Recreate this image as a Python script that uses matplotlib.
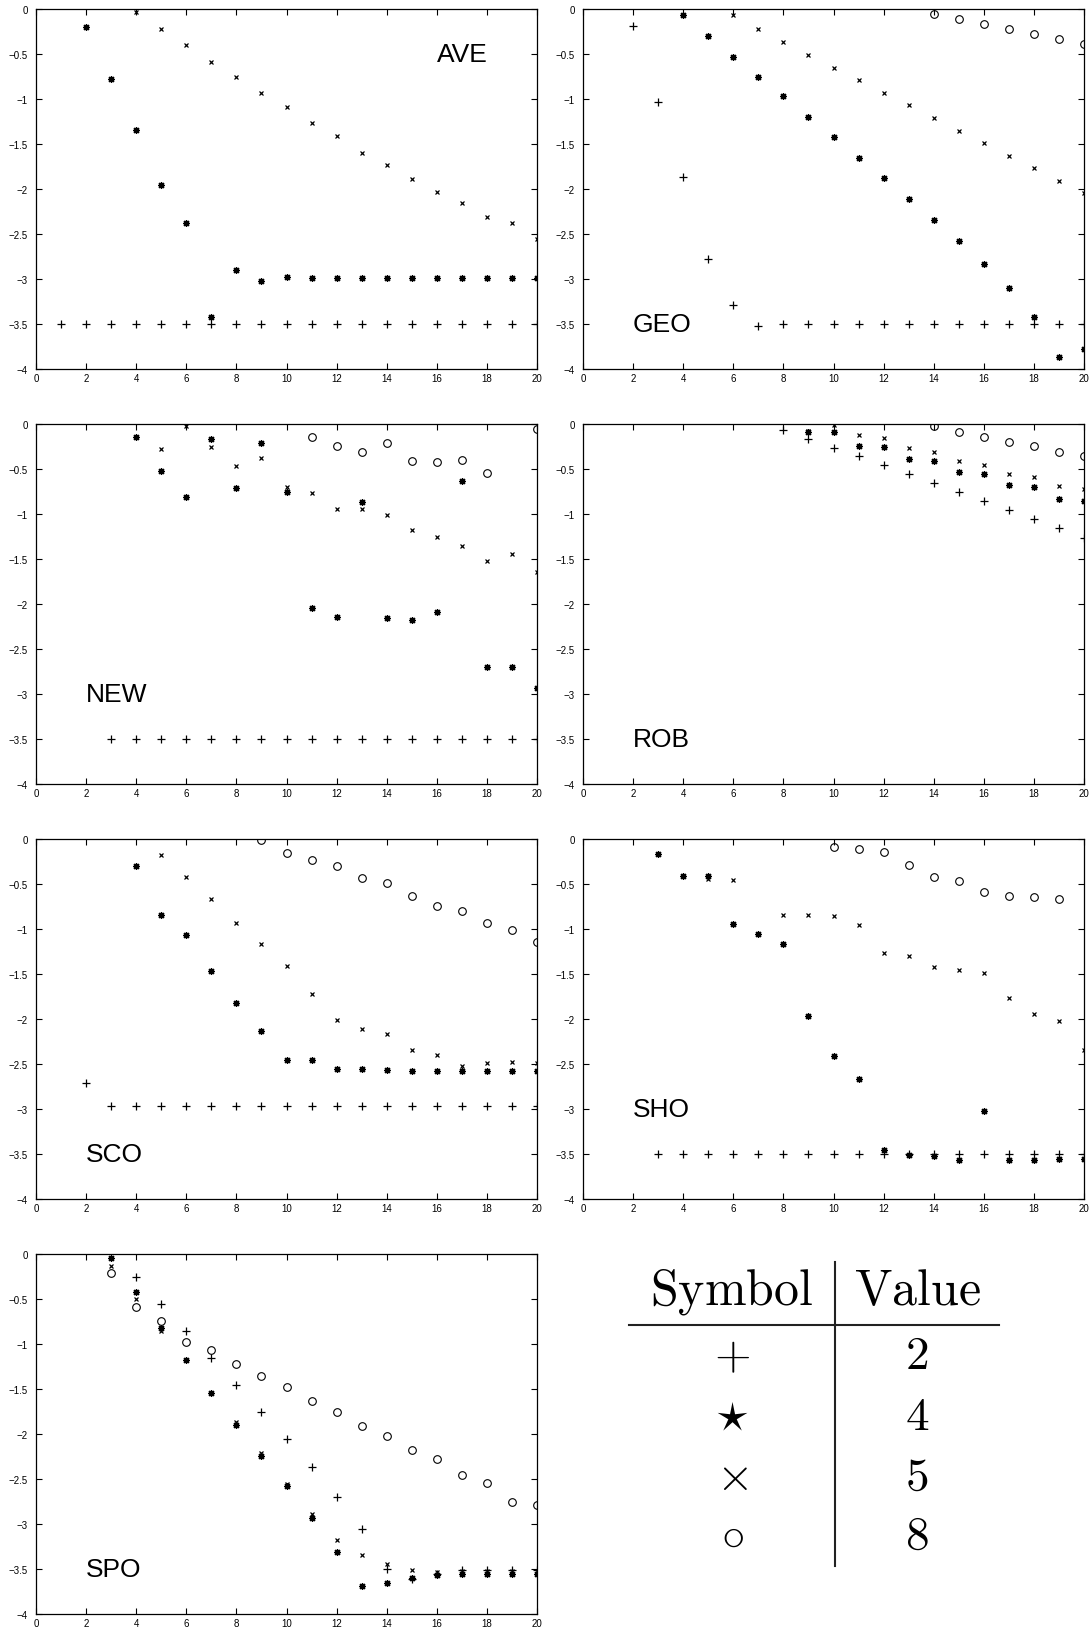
import matplotlib
matplotlib.use("Agg")
import matplotlib.pyplot as plt
from matplotlib.ticker import FuncFormatter, MultipleLocator

plt.rcParams['font.family'] = ['Liberation Sans', 'DejaVu Sans']
plt.rcParams['mathtext.fontset'] = 'cm'

# one list of x positions and one of values per symbol, per method
ave_x2 = list(range(1, 21))
ave_y2 = [-3.5, -3.5, -3.5, -3.5, -3.5, -3.5, -3.5, -3.5, -3.5, -3.5,
          -3.5, -3.5, -3.5, -3.5, -3.5, -3.5, -3.5, -3.5, -3.5, -3.5]
ave_x4 = list(range(2, 21))
ave_y4 = [-0.20, -0.78, -1.34, -1.96, -2.38, -3.42, -2.90, -3.02, -2.98, -2.99,
          -2.99, -2.99, -2.99, -2.99, -2.99, -2.99, -2.99, -2.99, -2.99]
ave_x5 = list(range(4, 21))
ave_y5 = [-0.03, -0.22, -0.40, -0.59, -0.76, -0.93, -1.09, -1.27, -1.41, -1.60,
          -1.73, -1.89, -2.03, -2.15, -2.31, -2.38, -2.56]
ave_x8 = []
ave_y8 = []

geo_x2 = list(range(2, 21))
geo_y2 = [-0.19, -1.03, -1.87, -2.78, -3.29, -3.52, -3.5, -3.5, -3.5, -3.5,
          -3.5, -3.5, -3.5, -3.5, -3.5, -3.5, -3.5, -3.5, -3.5]
geo_x4 = list(range(4, 21))
geo_y4 = [-0.07, -0.30, -0.53, -0.75, -0.97, -1.20, -1.42, -1.65, -1.88, -2.11,
          -2.34, -2.58, -2.83, -3.10, -3.42, -3.87, -3.78]
geo_x5 = list(range(6, 21))
geo_y5 = [-0.07, -0.22, -0.37, -0.51, -0.66, -0.79, -0.93, -1.07, -1.21, -1.35,
          -1.49, -1.63, -1.77, -1.91, -2.05]
geo_x8 = list(range(14, 21))
geo_y8 = [-0.06, -0.11, -0.17, -0.22, -0.28, -0.33, -0.39]

new_x2 = list(range(3, 21))
new_y2 = [-3.5, -3.5, -3.5, -3.5, -3.5, -3.5, -3.5, -3.5, -3.5, -3.5,
          -3.5, -3.5, -3.5, -3.5, -3.5, -3.5, -3.5, -3.5]
new_x4 = list(range(4, 21))
new_y4 = [-0.14, -0.52, -0.81, -0.17, -0.71, -0.21, -0.76, -2.04, -2.14, -0.87,
          -2.16, -2.18, -2.09, -0.63, -2.70, -2.70, -2.93]
new_x5 = list(range(5, 21))
new_y5 = [-0.28, -0.02, -0.25, -0.47, -0.38, -0.70, -0.77, -0.94, -0.94, -1.01,
          -1.18, -1.25, -1.35, -1.52, -1.44, -1.64]
new_x8 = [11, 12, 13, 14, 15, 16, 17, 18, 20]
new_y8 = [-0.14, -0.24, -0.31, -0.21, -0.41, -0.42, -0.40, -0.54, -0.06]

rob_x2 = list(range(8, 21))
rob_y2 = [-0.07, -0.17, -0.27, -0.36, -0.46, -0.56, -0.65, -0.75, -0.85, -0.95,
          -1.05, -1.16, -1.27]
rob_x4 = list(range(9, 21))
rob_y4 = [-0.09, -0.09, -0.24, -0.26, -0.39, -0.41, -0.53, -0.55, -0.68, -0.70,
          -0.83, -0.85]
rob_x5 = list(range(9, 21))
rob_y5 = [-0.08, -0.01, -0.12, -0.16, -0.27, -0.31, -0.41, -0.45, -0.55, -0.59,
          -0.69, -0.72]
rob_x8 = list(range(14, 21))
rob_y8 = [-0.02, -0.09, -0.14, -0.20, -0.24, -0.31, -0.36]

sco_x2 = list(range(2, 21))
sco_y2 = [-2.71, -2.97, -2.97, -2.97, -2.97, -2.97, -2.97, -2.97, -2.97, -2.97,
          -2.97, -2.97, -2.97, -2.97, -2.97, -2.97, -2.97, -2.97, -2.97]
sco_x4 = list(range(4, 21))
sco_y4 = [-0.30, -0.84, -1.07, -1.47, -1.82, -2.13, -2.46, -2.46, -2.55, -2.55,
          -2.57, -2.58, -2.58, -2.58, -2.58, -2.58, -2.58]
sco_x5 = list(range(5, 21))
sco_y5 = [-0.18, -0.42, -0.67, -0.93, -1.17, -1.41, -1.72, -2.01, -2.11, -2.17,
          -2.34, -2.40, -2.52, -2.49, -2.48, -2.49]
sco_x8 = list(range(9, 21))
sco_y8 = [-0.01, -0.15, -0.23, -0.30, -0.43, -0.49, -0.63, -0.74, -0.80, -0.93,
          -1.01, -1.14]

sho_x2 = list(range(3, 21))
sho_y2 = [-3.5, -3.5, -3.5, -3.5, -3.5, -3.5, -3.5, -3.5, -3.5, -3.5,
          -3.5, -3.5, -3.5, -3.5, -3.5, -3.5, -3.5, -3.5]
sho_x4 = list(range(3, 21))
sho_y4 = [-0.17, -0.41, -0.41, -0.94, -1.06, -1.17, -1.97, -2.41, -2.67, -3.46,
          -3.51, -3.52, -3.57, -3.02, -3.57, -3.57, -3.55, -3.55]
sho_x5 = [5, 6, 8, 9, 10, 11, 12, 13, 14, 15, 16, 17, 18, 19, 20]
sho_y5 = [-0.44, -0.46, -0.84, -0.84, -0.85, -0.95, -1.27, -1.30, -1.42, -1.46,
          -1.49, -1.77, -1.94, -2.02, -2.34]
sho_x8 = list(range(10, 20))
sho_y8 = [-0.09, -0.11, -0.14, -0.29, -0.42, -0.47, -0.59, -0.63, -0.64, -0.67]

spo_x2 = list(range(4, 21))
spo_y2 = [-0.25, -0.55, -0.85, -1.15, -1.45, -1.75, -2.06, -2.37, -2.70, -3.06,
          -3.50, -3.61, -3.56, -3.51, -3.51, -3.51, -3.51]
spo_x4 = list(range(3, 21))
spo_y4 = [-0.04, -0.42, -0.82, -1.18, -1.54, -1.90, -2.24, -2.58, -2.93, -3.31,
          -3.69, -3.65, -3.60, -3.57, -3.55, -3.55, -3.55, -3.55]
spo_x5 = list(range(3, 21))
spo_y5 = [-0.13, -0.50, -0.85, -1.18, -1.54, -1.87, -2.21, -2.55, -2.89, -3.18,
          -3.34, -3.44, -3.51, -3.53, -3.52, -3.52, -3.52, -3.52]
spo_x8 = list(range(3, 21))
spo_y8 = [-0.21, -0.59, -0.74, -0.98, -1.07, -1.22, -1.35, -1.48, -1.63, -1.75,
          -1.91, -2.02, -2.18, -2.28, -2.46, -2.54, -2.76, -2.79]

names = ["AVE", "GEO", "NEW", "ROB", "SCO", "SHO", "SPO"]
label_pos = [(16, -0.5), (2, -3.5), (2, -3.0), (2, -3.5), (2, -3.5), (2, -3.0), (2, -3.5)]

table_symbols = [r'$+$', r'$\star$', r'$\times$', r'$\circ$']
table_values = ['2', '4', '5', '8']

series = {
    "AVE": [(ave_x2, ave_y2), (ave_x4, ave_y4), (ave_x5, ave_y5), (ave_x8, ave_y8)],
    "GEO": [(geo_x2, geo_y2), (geo_x4, geo_y4), (geo_x5, geo_y5), (geo_x8, geo_y8)],
    "NEW": [(new_x2, new_y2), (new_x4, new_y4), (new_x5, new_y5), (new_x8, new_y8)],
    "ROB": [(rob_x2, rob_y2), (rob_x4, rob_y4), (rob_x5, rob_y5), (rob_x8, rob_y8)],
    "SCO": [(sco_x2, sco_y2), (sco_x4, sco_y4), (sco_x5, sco_y5), (sco_x8, sco_y8)],
    "SHO": [(sho_x2, sho_y2), (sho_x4, sho_y4), (sho_x5, sho_y5), (sho_x8, sho_y8)],
    "SPO": [(spo_x2, spo_y2), (spo_x4, spo_y4), (spo_x5, spo_y5), (spo_x8, spo_y8)],
}

# marker style for symbols 2, 4, 5, 8
styles = [
    dict(marker='+', ms=6, mew=0.9),
    dict(marker=(8, 2, 0), ms=5, mew=0.9),
    dict(marker='x', ms=3.5, mew=0.9),
    dict(marker='o', ms=5.5, mew=0.8, mfc='none'),
]

W, H = 1092, 1633
fig = plt.figure(figsize=(W / 100, H / 100), dpi=100)

col_left = [36, 583]
row_top = [10, 425, 840, 1255]
ax_w, ax_h = 501, 360

fmt = FuncFormatter(lambda v, p: ('%g' % v).replace('-', '\u2212'))

for i, name in enumerate(names):
    r, c = divmod(i, 2)
    x0 = col_left[c]
    y0 = row_top[r]
    ax = fig.add_axes([x0 / W, 1 - (y0 + ax_h) / H, ax_w / W, ax_h / H])
    for (xs, ys), st in zip(series[name], styles):
        if xs:
            ax.plot(xs, ys, ls='none', color='black', **st)
    ax.set_xlim(0, 20)
    ax.set_ylim(-4, 0)
    ax.xaxis.set_major_locator(MultipleLocator(2))
    ax.yaxis.set_major_locator(MultipleLocator(0.5))
    ax.xaxis.set_major_formatter(fmt)
    ax.yaxis.set_major_formatter(fmt)
    ax.tick_params(direction='in', top=True, right=True, length=4, width=0.8,
                   labelsize=7)
    ax.tick_params(axis='y', pad=6)
    ax.tick_params(axis='x', pad=3)
    for s in ax.spines.values():
        s.set_linewidth(0.9)
    lx, ly = label_pos[i]
    ax.text(lx, ly, name, fontsize=19, ha='left', va='center')

# symbol table drawn in pixel space over the empty last cell
tab = fig.add_axes([0, 0, 1, 1])
tab.set_xlim(0, W)
tab.set_ylim(H, 0)
tab.axis('off')
tab.plot([629, 999], [1326, 1326], color='#222222', lw=1.5)
tab.plot([835, 835], [1263, 1567], color='#222222', lw=1.5)
tab.text(732, 1292, r'$\mathrm{Symbol}$', fontsize=36, ha='center', va='center')
tab.text(917, 1292, r'$\mathrm{Value}$', fontsize=36, ha='center', va='center')
row_y = [1357, 1418, 1478, 1537]
for sym, val, yy in zip(table_symbols, table_values, row_y):
    tab.text(732, yy, sym, fontsize=34, ha='center', va='center')
    tab.text(917, yy, r'$%s$' % val, fontsize=34, ha='center', va='center')

fig.savefig('out.png', dpi=100)
